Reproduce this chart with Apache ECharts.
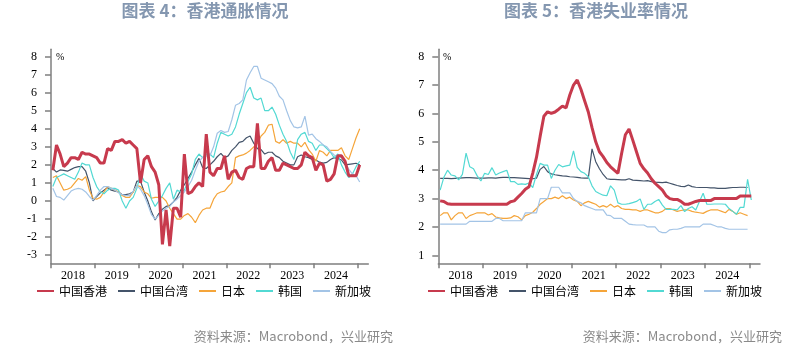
<!DOCTYPE html>
<html><head><meta charset="utf-8">
<script src="https://cdn.jsdelivr.net/npm/echarts@6/dist/echarts.min.js"></script>
<style>html,body{margin:0;padding:0;background:#fff}#c{width:812px;height:346px}</style>
</head><body><div id="c"></div>
<script>
// ---- labels ----
const seriesNames = ['中国香港', '中国台湾', '日本', '韩国', '新加坡'];
const yearLabels = ['2018', '2019', '2020', '2021', '2022', '2023', '2024'];
const titleLeft = '图表 4：香港通胀情况';
const titleRight = '图表 5：香港失业率情况';
const sourceText = '资料来源：Macrobond，兴业研究';
const unitText = '%';
const cpiTicks = [-3, -2, -1, 0, 1, 2, 3, 4, 5, 6, 7, 8];
const unempTicks = [1, 2, 3, 4, 5, 6, 7, 8];

// ---- CPI YoY, monthly Jan 2018 - Jan 2025 ----
const cpiHK = [1.7, 3.1, 2.6, 1.9, 2.1, 2.4, 2.4, 2.3, 2.7, 2.6, 2.6, 2.5,
  2.4, 2.1, 2.1, 2.9, 2.8, 3.3, 3.3, 3.4, 3.2, 3.3, 3.1, 2.9,
  1.0, 2.3, 2.5, 1.9, 1.6, 0.9, -2.4, -0.5, -2.5, -0.4, -0.4, -0.9,
  2.6, 0.4, 0.5, 0.8, 1.0, 0.8, 3.7, 1.6, 1.4, 1.8, 1.8, 2.5,
  1.2, 1.6, 1.7, 1.3, 1.2, 1.8, 1.9, 1.9, 4.3, 1.8, 1.8, 2.2,
  2.4, 1.7, 1.7, 2.1, 2.0, 1.9, 1.8, 1.8, 2.0, 2.7, 2.5, 2.4,
  1.7, 2.1, 2.0, 1.1, 1.2, 1.5, 2.5, 2.5, 2.2, 1.4, 1.4, 1.4,
  2.0];
const cpiTW = [1.8, 1.6, 1.72, 1.7, 1.65, 1.75, 1.85, 1.9, 1.9, 1.65, 1.0, 0.0,
  0.25, 0.45, 0.6, 0.75, 0.6, 0.55, 0.5, 0.35, 0.35, 0.4, 0.5, 1.1,
  1.1, 0.5, 0.0, -0.6, -1.05, -0.7, -0.45, -0.3, -0.25, -0.05, 0.2, 0.6,
  0.9, 1.25, 1.6, 2.0, 2.36, 1.85, 1.8, 2.0, 2.2, 2.45, 2.64, 2.4,
  2.5, 2.8, 3.0, 3.25, 3.3, 3.5, 3.6, 3.2, 2.9, 2.85, 2.6, 2.7,
  2.7, 2.5, 2.4, 2.2, 2.1, 2.0, 2.0, 2.45, 2.55, 2.45, 2.4, 2.3,
  2.27, 2.15, 2.1, 2.14, 2.3, 2.4, 2.35, 2.27, 2.0, 2.03, 2.06, 2.09,
  2.0];
const cpiJP = [1.3, 1.4, 1.0, 0.6, 0.65, 0.75, 1.0, 1.25, 1.15, 1.35, 0.6, 0.15,
  0.1, 0.2, 0.5, 0.8, 0.7, 0.6, 0.5, 0.3, 0.2, 0.2, 0.5, 0.85,
  0.8, 0.5, 0.4, 0.15, 0.2, 0.2, 0.2, 0.0, -0.4, -0.7, -1.0, -1.0,
  -0.8, -0.7, -0.9, -1.2, -0.8, -0.5, -0.4, -0.4, 0.1, 0.4, 0.5, 0.55,
  0.8, 1.0, 2.4, 2.5, 2.55, 2.65, 2.8, 3.0, 3.2, 3.6, 3.8, 4.2,
  4.25, 3.3, 3.2, 3.4, 3.2, 3.3, 3.2, 3.2, 3.0, 3.25, 2.85, 2.6,
  2.2, 2.8, 2.7, 2.5, 2.8, 2.8, 2.8, 2.95, 2.5, 2.3, 2.9, 3.5,
  4.0];
const cpiKR = [0.8, 1.3, 1.4, 1.5, 1.4, 1.3, 1.2, 1.6, 2.1, 2.0, 2.0, 1.3,
  0.8, 0.5, 0.4, 0.6, 0.7, 0.7, 0.6, 0.0, -0.4, 0.0, 0.2, 0.7,
  1.5, 1.1, 1.0, 0.1, -0.3, 0.0, 0.3, 0.7, 1.0, 0.1, 0.6, 0.5,
  0.6, 1.1, 1.5, 2.3, 2.6, 2.4, 2.6, 2.6, 2.4, 3.2, 3.8, 3.7,
  3.6, 3.7, 4.1, 4.8, 5.4, 6.0, 6.3, 5.7, 5.6, 5.7, 5.0, 5.0,
  5.2, 4.8, 4.2, 3.7, 3.3, 2.7, 2.3, 3.4, 3.7, 3.8, 3.3, 3.2,
  2.8, 3.1, 3.1, 2.9, 2.7, 2.4, 2.6, 2.0, 1.6, 1.3, 1.5, 1.9,
  2.2];
const cpiSG = [0.7, 0.25, 0.2, 0.05, 0.3, 0.55, 0.65, 0.7, 0.65, 0.5, 0.25, 0.05,
  0.3, 0.6, 0.8, 0.8, 0.7, 0.6, 0.45, 0.35, 0.3, 0.3, 0.55, 0.85,
  0.65, 0.3, -0.2, -0.75, -1.0, -0.8, -0.55, -0.4, -0.3, -0.05, 0.1, 0.3,
  0.5, 0.8, 1.15, 1.7, 2.2, 2.4, 2.5, 2.5, 3.0, 3.75, 3.9, 3.8,
  3.85, 4.5, 5.3, 5.4, 5.6, 6.7, 7.1, 7.45, 7.45, 6.8, 6.7, 6.6,
  6.5, 6.25, 5.8, 5.6, 5.0, 4.45, 4.1, 4.05, 4.1, 4.7, 3.65, 3.7,
  3.45, 3.3, 3.1, 3.0, 2.75, 2.55, 2.45, 2.4, 2.15, 1.75, 1.5, 1.4,
  1.05];

// ---- Unemployment rate, monthly Jan 2018 - Jan 2025 ----
const unHK = [2.92, 2.9, 2.82, 2.8, 2.8, 2.8, 2.8, 2.8, 2.8, 2.8, 2.8, 2.8,
  2.8, 2.8, 2.8, 2.8, 2.8, 2.8, 2.8, 2.89, 2.92, 3.05, 3.18, 3.33,
  3.42, 3.9, 4.45, 5.2, 5.9, 6.06, 6.0, 6.05, 6.15, 6.26, 6.2, 6.65,
  7.0, 7.18, 6.85, 6.45, 6.05, 5.5, 5.0, 4.65, 4.48, 4.27, 4.12, 4.0,
  3.89, 4.6, 5.25, 5.45, 5.06, 4.65, 4.24, 4.05, 3.9, 3.7, 3.54, 3.42,
  3.3, 3.1, 3.0, 2.97, 2.97, 2.9, 2.8, 2.8, 2.85, 2.9, 2.93, 2.93,
  2.93, 2.93, 3.0, 3.0, 3.0, 3.0, 3.0, 3.0, 3.0, 3.09, 3.09, 3.09,
  3.09];
const unTW = [3.71, 3.71, 3.71, 3.7, 3.71, 3.72, 3.73, 3.74, 3.74, 3.73, 3.72, 3.72,
  3.72, 3.73, 3.73, 3.72, 3.74, 3.75, 3.75, 3.74, 3.74, 3.73, 3.72, 3.71,
  3.7, 3.7, 3.72, 4.03, 4.13, 3.95, 3.87, 3.84, 3.82, 3.8, 3.79, 3.77,
  3.76, 3.75, 3.73, 3.72, 3.72, 4.75, 4.3, 4.05, 3.85, 3.7, 3.68, 3.68,
  3.67, 3.66, 3.66, 3.7, 3.65, 3.64, 3.63, 3.62, 3.63, 3.6, 3.58, 3.57,
  3.56, 3.58, 3.54, 3.5, 3.46, 3.43, 3.42, 3.48, 3.42, 3.4, 3.39, 3.39,
  3.39, 3.38, 3.38, 3.36, 3.36, 3.36, 3.38, 3.39, 3.39, 3.4, 3.4, 3.39];
const unJP = [2.4, 2.5, 2.5, 2.25, 2.4, 2.5, 2.5, 2.3, 2.4, 2.45, 2.5, 2.5,
  2.5, 2.42, 2.47, 2.35, 2.32, 2.3, 2.3, 2.32, 2.4, 2.36, 2.25, 2.4,
  2.45, 2.52, 2.65, 2.8, 2.9, 3.0, 3.0, 3.05, 3.0, 3.1, 3.0, 3.05,
  2.95, 2.9, 2.75, 2.85, 2.9, 2.85, 2.8, 2.7, 2.75, 2.7, 2.8, 2.7,
  2.75, 2.65, 2.62, 2.62, 2.6, 2.6, 2.55, 2.6, 2.6, 2.55, 2.5, 2.5,
  2.55, 2.65, 2.65, 2.6, 2.55, 2.58, 2.6, 2.6, 2.55, 2.52, 2.5, 2.48,
  2.55, 2.6, 2.6, 2.6, 2.55, 2.5, 2.62, 2.55, 2.45, 2.5, 2.45, 2.4];
const unKR = [3.3, 3.75, 4.0, 3.83, 3.8, 3.66, 3.85, 4.6, 4.12, 4.05, 3.8, 3.62,
  3.89, 3.85, 4.09, 3.83, 3.9, 3.95, 4.0, 3.6, 3.6, 3.5, 3.52, 3.5,
  3.55, 3.39, 3.85, 4.24, 4.18, 4.18, 3.71, 4.0, 4.2, 4.12, 4.15, 4.18,
  4.68, 4.1, 3.95, 3.89, 3.77, 3.45, 3.25, 3.18, 3.12, 3.1, 3.45, 3.3,
  2.85, 2.8, 2.8, 2.82, 2.86, 2.9, 2.99, 2.62, 2.8, 2.8, 2.9, 2.97,
  2.77, 2.62, 2.62, 2.62, 2.6, 2.75, 2.54, 2.65, 2.71, 2.6, 2.9, 3.19,
  2.8, 2.8, 2.81, 2.81, 2.81, 2.8, 2.65, 2.55, 2.45, 2.69, 2.69, 3.68,
  2.95];
const unSG = [2.1, 2.1, 2.1, 2.1, 2.1, 2.1, 2.1, 2.1, 2.2, 2.2, 2.2, 2.2,
  2.2, 2.2, 2.2, 2.3, 2.3, 2.22, 2.22, 2.22, 2.22, 2.22, 2.22, 2.5,
  2.5, 2.5, 2.5, 3.0, 3.0, 3.0, 3.4, 3.4, 3.4, 3.2, 3.2, 3.2,
  3.0, 2.9, 2.85, 2.75, 2.7, 2.65, 2.6, 2.6, 2.6, 2.42, 2.4, 2.3,
  2.3, 2.3, 2.2, 2.1, 2.08, 2.07, 2.07, 2.07, 2.0, 2.0, 2.0, 1.85,
  1.8, 1.8, 1.9, 1.92, 1.92, 1.95, 2.0, 2.0, 2.0, 2.0, 2.0, 2.1,
  2.1, 2.1, 2.05, 2.0, 2.0, 1.95, 1.92, 1.92, 1.92, 1.92, 1.92, 1.92];

// ---- styling ----
const colors = ['#C73A4D', '#44546A', '#F5A53A', '#52D9D3', '#A3C4E6'];
const widths = [3, 1.2, 1.2, 1.2, 1.2];
const axisColor = '#7f7f7f';
const serif = 'Liberation Serif';
const cjk = 'Noto Sans CJK SC';

// tick / label positions along month axis (0 = start of Jan 2018)
const yearTickPos = yearLabels.map((y, k) => k * 12).concat([yearLabels.length * 12]);
const yearLabelPos = yearLabels.map((y, k) => k * 12 + 6);

function toPoints(arr) { return arr.map((v, i) => [i + 0.5, v]); }

function xAxisCfg(gi) {
  return {
    gridIndex: gi, type: 'value', min: 0, max: 86.85,
    axisLine: { show: true, onZero: false, lineStyle: { color: axisColor, width: 1.5 } },
    axisTick: { show: true, customValues: yearTickPos, length: 5, inside: false, lineStyle: { color: axisColor, width: 1.5 } },
    axisLabel: { customValues: yearLabelPos, margin: 7, color: '#000', fontFamily: serif, fontSize: 12,
      formatter: v => yearLabels[Math.round((v - 6) / 12)] },
    splitLine: { show: false }
  };
}
function yAxisCfg(gi, mn, mx, ticks) {
  return {
    gridIndex: gi, type: 'value', min: mn, max: mx,
    axisLine: { show: true, onZero: false, lineStyle: { color: axisColor, width: 1.5 } },
    axisTick: { show: true, customValues: ticks, length: 6, lineStyle: { color: axisColor, width: 1.5 } },
    axisLabel: { customValues: ticks, margin: 14, color: '#000', fontFamily: serif, fontSize: 12,
      formatter: v => String(v) },
    splitLine: { show: false }
  };
}

const cpiData = [cpiHK, cpiTW, cpiJP, cpiKR, cpiSG];
const unData = [unHK, unTW, unJP, unKR, unSG];
const series = [];
[cpiData, unData].forEach((set, gi) => {
  set.forEach((arr, k) => {
    series.push({
      name: seriesNames[k], type: 'line', xAxisIndex: gi, yAxisIndex: gi,
      data: toPoints(arr), symbol: 'none', showSymbol: false,
      z: k === 0 ? 5 : 3,
      color: colors[k],
      lineStyle: { color: colors[k], width: widths[k] }
    });
  });
});

function legendCfg(left) {
  return {
    left: left, top: 285, padding: 0, orient: 'horizontal', itemWidth: 17, itemHeight: 10, itemGap: 10,
    itemStyle: { opacity: 0 },
    textStyle: { fontFamily: cjk, fontSize: 12, color: '#000' },
    data: seriesNames, selectedMode: false
  };
}

function txt(text, x, y, font, fill, align) {
  return { type: 'text', x: x, y: y, silent: true,
    style: { text: text, font: font, fill: fill, align: align, textAlign: align,
      verticalAlign: 'middle', textVerticalAlign: 'middle' } };
}

const chart = echarts.init(document.getElementById('c'), null, { renderer: 'canvas' });
chart.setOption({
  animation: false,
  backgroundColor: '#ffffff',
  grid: [
    { left: 51, top: 49.3, width: 317.3, height: 214, containLabel: false, outerBoundsMode: 'none' },
    { left: 438.3, top: 49.3, width: 321.7, height: 214, containLabel: false, outerBoundsMode: 'none' }
  ],
  xAxis: [xAxisCfg(0), xAxisCfg(1)],
  yAxis: [yAxisCfg(0, -3.45, 8.4, cpiTicks), yAxisCfg(1, 0.72, 8.26, unempTicks)],
  legend: [legendCfg(36), legendCfg(427)],
  series: series,
  graphic: [
    txt(titleLeft, 205, 11, 'bold 17px "Noto Sans CJK SC"', '#8497B0', 'center'),
    txt(titleRight, 596, 11, 'bold 17px "Noto Sans CJK SC"', '#8497B0', 'center'),
    txt(unitText, 56, 57, '10px "Liberation Serif"', '#000', 'left'),
    txt(unitText, 443, 57, '10px "Liberation Serif"', '#000', 'left'),
    txt(sourceText, 393, 336, '13px "Noto Sans CJK SC"', '#8a8a8a', 'right'),
    txt(sourceText, 782, 336, '13px "Noto Sans CJK SC"', '#8a8a8a', 'right')
  ]
});
</script>
</body></html>
